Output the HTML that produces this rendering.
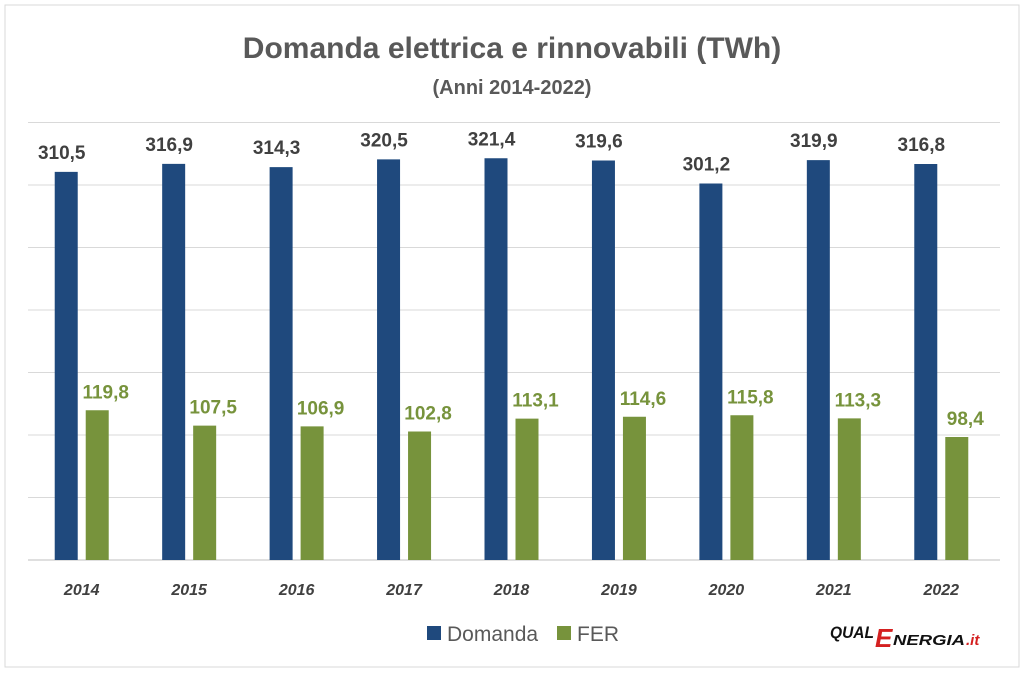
<!DOCTYPE html>
<html><head><meta charset="utf-8"><style>
body{margin:0;background:#fff;}
svg{display:block;font-family:"Liberation Sans",sans-serif;}
</style></head><body>
<svg id="chart" width="1025" height="674">
<rect x="5" y="5" width="1014" height="662" fill="#fff" stroke="#d9d9d9"/>
<text x="512" y="58" text-anchor="middle" font-size="30" font-weight="bold" fill="#595959">Domanda elettrica e rinnovabili (TWh)</text>
<text x="512" y="94" text-anchor="middle" font-size="20" font-weight="bold" fill="#595959">(Anni 2014-2022)</text>
<g id="grid"></g><g id="bars"></g><g id="labels"></g>
<g>
<rect x="427" y="626" width="14" height="14" fill="#1f497d"/>
<text x="447" y="641" font-size="21" fill="#595959">Domanda</text>
<rect x="557" y="626" width="14" height="14" fill="#77933c"/>
<text x="577" y="641" font-size="21" fill="#595959">FER</text>
</g>
<g>
<text x="830" y="638" font-size="17" font-weight="bold" font-style="italic" fill="#111" textLength="44" lengthAdjust="spacingAndGlyphs">QUAL</text>
<text x="875" y="647" font-size="26" font-weight="bold" font-style="italic" fill="#d42020">E</text>
<text x="893" y="645" font-size="15" font-weight="bold" font-style="italic" fill="#111" textLength="72" lengthAdjust="spacingAndGlyphs">NERGIA</text>
<text x="966" y="645" font-size="15" font-weight="bold" font-style="italic" fill="#d42020">.it</text>
</g>
</svg>
<script>
const categories=["2014","2015","2016","2017","2018","2019","2020","2021","2022"];
const domanda=[310.5,316.9,314.3,320.5,321.4,319.6,301.2,319.9,316.8];
const fer=[119.8,107.5,106.9,102.8,113.1,114.6,115.8,113.3,98.4];
const ticks=[0,50,100,150,200,250,300,350];
const NS="http://www.w3.org/2000/svg";
const x0=28,x1=995,y0=560,ymax=350,ytop=122.5;
const bw=(x1-x0)/categories.length;
function y(v){return y0-(v/ymax)*(y0-ytop);}
function mk(t,a,p){const e=document.createElementNS(NS,t);for(const k in a)e.setAttribute(k,a[k]);p.appendChild(e);return e;}
const g=document.getElementById('grid'),b=document.getElementById('bars'),l=document.getElementById('labels');
ticks.forEach(t=>{const e=mk('line',{x1:x0,x2:1000,y1:y(t),y2:y(t),stroke:t===0?'#bfbfbf':'#d9d9d9','stroke-width':1},g);

});
categories.forEach((c,i)=>{
 const cx=x0+bw*(i+0.5);
 const r1=mk('rect',{x:cx-27,y:y(domanda[i]),width:23,height:y0-y(domanda[i]),fill:'#1f497d'},b);
 
 
 const r2=mk('rect',{x:cx+4,y:y(fer[i]),width:23,height:y0-y(fer[i]),fill:'#77933c'},b);
 
 
 const t1=mk('text',{x:cx-20,y:y(domanda[i])-13,'text-anchor':'middle','font-size':19,'font-weight':'bold',fill:'#404040'},l);
 t1.textContent=domanda[i].toFixed(1).replace('.',',');
 
 
 const t2=mk('text',{x:cx+24,y:y(fer[i])-12,'text-anchor':'middle','font-size':19,'font-weight':'bold',fill:'#77933c'},l);
 t2.textContent=fer[i].toFixed(1).replace('.',',');
 
 
 const t3=mk('text',{x:cx,y:595,'text-anchor':'middle','font-size':16,'font-weight':'bold','font-style':'italic',fill:'#404040'},l);
 t3.textContent=c;
 
 
});
</script>
</body></html>
